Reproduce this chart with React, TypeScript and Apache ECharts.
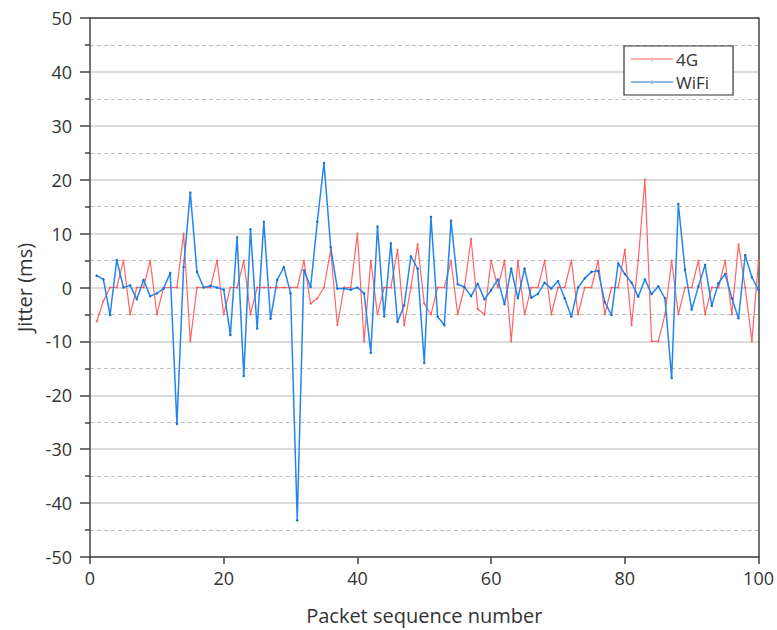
import React, { useEffect, useRef } from "react";
import * as echarts from "echarts";

const packetNumbers: number[] = Array.from({ length: 100 }, (_, i) => i + 1);

const jitter4G: number[] = [
  -6.3, -2.5, 0, 0, 5, -5, 0, 0, 5, -5,
  0, 0, 0, 10, -10, 0, 0, 0, 5, -5,
  0, 0, 5, -5, 0, 0, 0, 0, 0, 0,
  0, 5, -3, -2, 0, 7, -7, 0, 0, 10,
  -10, 5, -5, 0, 0, 7, -7, 0, 8, -3,
  -5, 0, 0, 5, -5, 0, 9, -4, -5, 5,
  0, 5, -10, 5, -5, 0, 0, 5, -5, 0,
  0, 5, -5, 0, 0, 5, -5, 0, 0, 7,
  -7, 5, 20, -10, -10, -5, 5, -5, 0, 0,
  5, -5, 0, 0, 5, -5, 8, 0, -10, 5,
];

const jitterWiFi: number[] = [
  2.2, 1.5, -5.1, 5.1, 0, 0.4, -2.2, 1.4, -1.6, -1.1,
  -0.2, 2.7, -25.3, 3.8, 17.6, 2.9, 0, 0.3, 0, -0.4,
  -8.8, 9.3, -16.4, 10.8, -7.6, 12.2, -5.8, 1.4, 3.8, -1.1,
  -43.2, 3.2, 0.1, 12.2, 23.1, 7.5, -0.2, -0.2, -0.4, 0,
  -1.1, -12.1, 11.3, -5.4, 8.2, -6.4, -3.3, 5.8, 3.5, -14,
  13.1, -5.4, -7.0, 12.4, 0.6, 0.1, -1.6, 0.7, -2.2, -0.5,
  1.5, -3.1, 3.5, -2, 3.5, -1.9, -1.2, 0.9, -0.2, 1.2,
  -2, -5.4, 0, 1.7, 2.9, 3.1, -2.7, -5.1, 4.5, 2.5,
  0.9, -1.7, 1.5, -1.2, 0.2, -2.0, -16.8, 15.5, 3.3, -4.1,
  0.2, 4.2, -3.4, 0.8, 2.5, -2, -5.7, 6.0, 1.9, -0.5,
];

const seriesNames: string[] = ["4G", "WiFi"];

export default function App() {
  const ref = useRef<HTMLDivElement>(null);

  useEffect(() => {
    if (!ref.current) return;
    const chart = echarts.init(ref.current, undefined, { renderer: "svg" });
    const font = "'Open Sans', 'Noto Sans', sans-serif";
    const axisColor = "#444";
    chart.setOption({
      animation: false,
      backgroundColor: "#fff",
      textStyle: { fontFamily: font },
      grid: { left: 90, right: 17, top: 18, bottom: 73, containLabel: false },
      legend: {
        orient: "vertical",
        left: 624,
        top: 46,
        itemWidth: 42,
        itemHeight: 22,
        itemGap: 1,
        padding: [2, 24, 2, 7],
        borderColor: "#333",
        borderWidth: 1.2,
        backgroundColor: "#fff",
        textStyle: { fontSize: 17, lineHeight: 22, color: "#333", fontFamily: font, padding: [0, 0, 0, -2] },
        data: seriesNames.map((n) => ({
          name: n,
          icon: "path://M0,4.5 L42,4.5 L42,5.5 L0,5.5 Z M19.5,5 A1.5,1.5 0 1 0 22.5,5 A1.5,1.5 0 1 0 19.5,5 Z",
        })),
      },
      xAxis: [
        {
          type: "value",
          min: 0,
          max: 100,
          interval: 20,
          name: "Packet sequence number",
          nameLocation: "middle",
          nameGap: 48,
          nameTextStyle: { fontSize: 20, color: "#333", fontFamily: font },
          axisLine: { show: true, onZero: false, lineStyle: { color: axisColor, width: 1.5 } },
          axisTick: { show: true, length: 7, lineStyle: { color: axisColor, width: 1.5 } },
          axisLabel: { fontSize: 18, color: "#333", margin: 12 },
          splitLine: { show: false },
        },
        {
          type: "value",
          position: "top",
          min: 0,
          max: 100,
          interval: 20,
          axisLine: { show: true, onZero: false, lineStyle: { color: axisColor, width: 1.5 } },
          axisTick: { show: false },
          axisLabel: { show: false },
          splitLine: { show: false },
        },
      ],
      yAxis: [
        {
          type: "value",
          min: -50,
          max: 50,
          interval: 10,
          name: "Jitter (ms)",
          nameLocation: "middle",
          nameGap: 56,
          nameTextStyle: { fontSize: 20, color: "#333", fontFamily: font },
          axisLine: { show: true, onZero: false, lineStyle: { color: axisColor, width: 1.5 } },
          axisTick: { show: true, length: 10, lineStyle: { color: axisColor, width: 1.5 } },
          minorTick: { show: true, splitNumber: 2, length: 5, lineStyle: { color: axisColor, width: 1.5 } },
          axisLabel: { fontSize: 18, color: "#333", margin: 18 },
          splitLine: { show: true, lineStyle: { color: "#cfcfcf", width: 1.5 } },
          minorSplitLine: { show: true, lineStyle: { color: "#bdbdbd", width: 1, type: [4, 3] } },
        },
        {
          type: "value",
          position: "right",
          min: -50,
          max: 50,
          interval: 10,
          axisLine: { show: true, onZero: false, lineStyle: { color: axisColor, width: 1.5 } },
          axisTick: { show: false },
          axisLabel: { show: false },
          splitLine: { show: false },
        },
      ],
      series: [
        {
          name: seriesNames[0],
          type: "line",
          data: packetNumbers.map((x, i) => [x, jitter4G[i]]),
          color: "#ff5a5a",
          lineStyle: { width: 1.2, color: "#ff6464" },
          symbol: "circle",
          symbolSize: 2,
          itemStyle: { color: "#ff5a5a" },
          z: 2,
        },
        {
          name: seriesNames[1],
          type: "line",
          data: packetNumbers.map((x, i) => [x, jitterWiFi[i]]),
          color: "#1a7fe8",
          lineStyle: { width: 1.5, color: "#2485ee" },
          symbol: "circle",
          symbolSize: 2.5,
          itemStyle: { color: "#1a6fd0" },
          z: 3,
        },
      ],
    });
    return () => chart.dispose();
  }, []);

  return (
    <div
      ref={ref}
      style={{ position: "absolute", left: 0, top: 0, width: 777, height: 630 }}
    />
  );
}
